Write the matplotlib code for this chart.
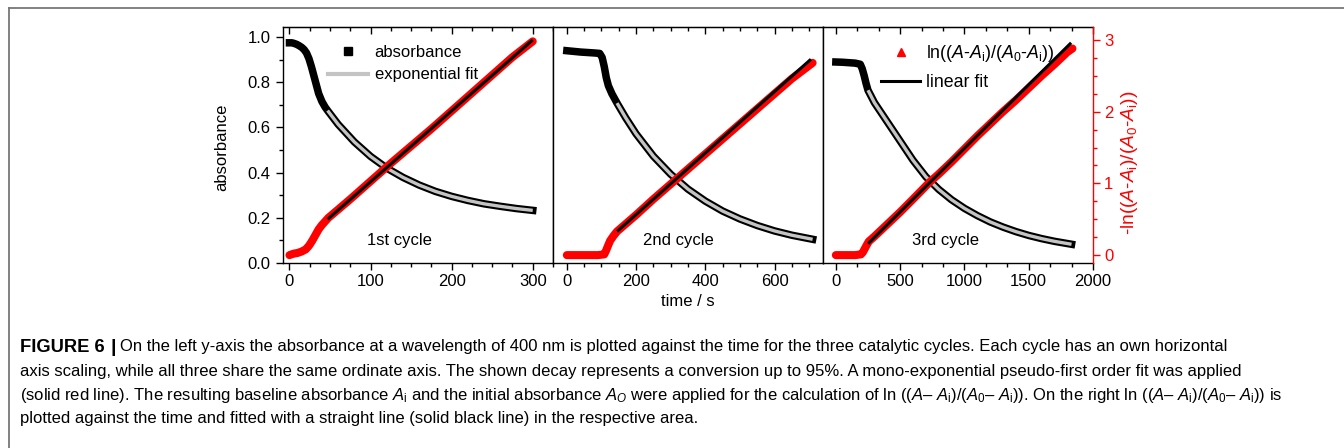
import matplotlib
matplotlib.use("Agg")
import matplotlib.pyplot as plt
from matplotlib.lines import Line2D
from matplotlib.ticker import MultipleLocator, AutoMinorLocator, FormatStrFormatter

plt.rcParams["font.family"] = ["Liberation Sans", "DejaVu Sans"]
plt.rcParams["mathtext.fontset"] = "custom"
plt.rcParams["mathtext.rm"] = "Liberation Sans"
plt.rcParams["mathtext.it"] = "Liberation Sans:italic"
plt.rcParams["font.size"] = 12

# ---------------- DATA ----------------
# 1st cycle
c1_t = [0, 3, 6, 9, 12, 15, 18, 21, 24, 27, 30, 33, 36, 40, 44, 47,
        60, 80, 100, 120, 140, 160, 180, 200, 220, 240, 260, 280, 300]
c1_abs = [0.975, 0.975, 0.972, 0.968, 0.962, 0.955, 0.945, 0.93, 0.905, 0.87,
          0.83, 0.79, 0.75, 0.715, 0.69, 0.675,
          0.614, 0.536, 0.472, 0.42, 0.379, 0.345, 0.317, 0.295, 0.277,
          0.262, 0.251, 0.241, 0.233]
c1_fit_t = [47, 60, 80, 100, 120, 140, 160, 180, 200, 220, 240, 260, 280, 300]
c1_fit = [0.675, 0.614, 0.536, 0.472, 0.42, 0.379, 0.345, 0.317, 0.295,
          0.277, 0.262, 0.251, 0.241, 0.233]
c1_ln_t = [0, 5, 10, 15, 20, 24, 28, 32, 36, 40, 44, 48,
           75, 100, 125, 150, 175, 200, 225, 250, 275, 300]
c1_ln = [0.0, 0.02, 0.03, 0.05, 0.08, 0.13, 0.2, 0.28, 0.36, 0.42, 0.47, 0.52,
         0.78, 1.03, 1.28, 1.52, 1.76, 2.01, 2.26, 2.51, 2.76, 2.98]
c1_lin_t = [47, 300]
c1_lin = [0.5, 3.0]

# 2nd cycle
c2_t = [0, 20, 40, 60, 80, 95, 102, 108, 114, 120, 130, 145,
        170, 200, 250, 300, 350, 400, 450, 500, 550, 600, 650, 710]
c2_abs = [0.94, 0.937, 0.934, 0.932, 0.93, 0.928, 0.91, 0.87, 0.82, 0.785,
          0.75, 0.708, 0.643, 0.572, 0.473, 0.393, 0.327, 0.274, 0.23, 0.195,
          0.166, 0.142, 0.123, 0.105]
c2_fit_t = [145, 170, 200, 250, 300, 350, 400, 450, 500, 550, 600, 650, 710]
c2_fit = [0.708, 0.643, 0.572, 0.473, 0.393, 0.327, 0.274, 0.23, 0.195,
          0.166, 0.142, 0.123, 0.105]
c2_ln_t = [0, 30, 60, 90, 108, 113, 118, 125, 135, 145,
           200, 250, 300, 350, 400, 450, 500, 550, 600, 650, 710]
c2_ln = [0.0, 0.0, 0.0, 0.0, 0.01, 0.06, 0.12, 0.2, 0.27, 0.33,
         0.56, 0.78, 0.99, 1.2, 1.41, 1.62, 1.83, 2.04, 2.25, 2.46, 2.68]
c2_lin_t = [145, 705]
c2_lin = [0.33, 2.73]

# 3rd cycle
c3_t = [0, 50, 100, 150, 190, 205, 220, 235, 250,
        300, 400, 500, 600, 700, 800, 900, 1000, 1100, 1200, 1300, 1400,
        1500, 1600, 1700, 1833]
c3_abs = [0.89, 0.889, 0.887, 0.885, 0.88, 0.86, 0.83, 0.795, 0.765,
          0.71, 0.625, 0.54, 0.455, 0.382, 0.326, 0.28, 0.242, 0.21, 0.182,
          0.159, 0.139, 0.122, 0.108, 0.096, 0.083]
c3_fit_t = [250, 300, 400, 500, 600, 700, 800, 900, 1000, 1100, 1200, 1300,
            1400, 1500, 1600, 1700, 1833]
c3_fit = [0.765, 0.71, 0.625, 0.54, 0.455, 0.382, 0.326, 0.28, 0.242, 0.21,
          0.182, 0.159, 0.139, 0.122, 0.108, 0.096, 0.083]
c3_ln_t = [0, 50, 100, 150, 195, 210, 225, 240, 256,
           300, 400, 500, 600, 731, 800, 900, 1000, 1100, 1200, 1300, 1400,
           1500, 1600, 1700, 1800, 1840]
c3_ln = [0.0, 0.0, 0.0, 0.0, 0.01, 0.04, 0.09, 0.14, 0.19,
         0.26, 0.43, 0.6, 0.78, 1.02, 1.13, 1.3, 1.48, 1.66, 1.83, 2.0, 2.16,
         2.33, 2.5, 2.66, 2.83, 2.88]
c3_lin_t = [250, 1830]
c3_lin = [0.16, 2.96]

cycle_labels = ["1st cycle", "2nd cycle", "3rd cycle"]
xlims = [(-8, 325), (-40, 740), (-100, 2000)]
x_major = [100, 200, 500]
x_minor = [4, 4, 3]

RED = "#ff0000"
GRAY = "#c4c4c4"

# ---------------- LAYOUT (pixels of the 1344x448 picture) ----------------
W, H = 1344, 448
PANEL_X = [283, 553, 823]
PANEL_W = 270
PANEL_TOP, PANEL_BOT = 27, 263
PANEL_H = PANEL_BOT - PANEL_TOP

fig = plt.figure(figsize=(W / 100, H / 100), dpi=100)

# thin frame around the figure
fig.add_artist(Line2D([9 / W, 1], [1 - 8.5 / H, 1 - 8.5 / H], color="#777777", lw=1.3))
fig.add_artist(Line2D([9 / W, 9 / W], [0, 1 - 8.5 / H], color="#777777", lw=1.3))

data = [
    (c1_t, c1_abs, c1_fit_t, c1_fit, c1_ln_t, c1_ln, c1_lin_t, c1_lin),
    (c2_t, c2_abs, c2_fit_t, c2_fit, c2_ln_t, c2_ln, c2_lin_t, c2_lin),
    (c3_t, c3_abs, c3_fit_t, c3_fit, c3_ln_t, c3_ln, c3_lin_t, c3_lin),
]

axes = []
for i, (t, a, ft, fa, lt, lv, lint, linv) in enumerate(data):
    rect = [PANEL_X[i] / W, 1 - PANEL_BOT / H, PANEL_W / W, PANEL_H / H]
    ax = fig.add_axes(rect)
    axr = ax.twinx()

    # absorbance data + exponential fit
    ax.plot(t, a, color="black", lw=5.4, solid_capstyle="projecting", solid_joinstyle="round")
    ax.plot(ft, fa, color=GRAY, lw=2.4, solid_capstyle="butt")

    # ln data + linear fit (right scale)
    axr.plot(lt, lv, color=RED, lw=5.8, solid_capstyle="round", solid_joinstyle="round")
    axr.plot(lint, linv, color="black", lw=2.2, solid_capstyle="butt")

    ax.set_xlim(*xlims[i])
    ax.set_ylim(0, 1.045)
    axr.set_ylim(-0.11, 3.18)

    ax.xaxis.set_major_locator(MultipleLocator(x_major[i]))
    ax.xaxis.set_minor_locator(AutoMinorLocator(x_minor[i]))
    ax.tick_params(axis="x", which="both", direction="out", top=False, pad=3)
    ax.tick_params(axis="x", which="major", length=5, width=1)
    ax.tick_params(axis="x", which="minor", length=3, width=1)

    top = ax.secondary_xaxis("top")
    top.xaxis.set_major_locator(MultipleLocator(x_major[i]))
    top.xaxis.set_minor_locator(AutoMinorLocator(x_minor[i]))
    top.tick_params(which="both", direction="in", labeltop=False, width=1)
    top.tick_params(which="major", length=5)
    top.tick_params(which="minor", length=3)

    ax.yaxis.set_major_locator(MultipleLocator(0.2))
    ax.yaxis.set_minor_locator(MultipleLocator(0.1))
    ax.yaxis.set_major_formatter(FormatStrFormatter("%.1f"))
    if i == 0:
        ax.tick_params(axis="y", which="both", direction="out", pad=4, width=1)
        ax.tick_params(axis="y", which="major", length=5)
        ax.tick_params(axis="y", which="minor", length=3)
    else:
        ax.tick_params(axis="y", which="both", left=False, labelleft=False)

    for s in axr.spines.values():
        s.set_visible(False)
    if i == 2:
        ax.spines["right"].set_visible(False)
        axr.spines["right"].set_visible(True)
        axr.spines["right"].set_color(RED)
        axr.yaxis.set_major_locator(MultipleLocator(1))
        axr.yaxis.set_minor_locator(AutoMinorLocator(4))
        axr.tick_params(axis="y", which="both", colors=RED, direction="out", pad=3, width=1)
        axr.tick_params(axis="y", which="major", length=5)
        axr.tick_params(axis="y", which="minor", length=3)
    else:
        axr.tick_params(axis="y", which="both", right=False, labelright=False)

    for s in ax.spines.values():
        s.set_linewidth(1.0)
    axr.spines["right"].set_linewidth(1.0)

    label_x = [0.433, 0.463, 0.452][i]
    ax.text(label_x, 0.097, cycle_labels[i], transform=ax.transAxes,
            ha="center", va="center", fontsize=12)
    axes.append((ax, axr))

# legends
ax1 = axes[0][0]
h1 = [Line2D([], [], color="black", marker="s", ls="none", markersize=5.5),
      Line2D([], [], color=GRAY, lw=3)]
ax1.legend(h1, ["absorbance", "exponential fit"], loc="upper left",
           bbox_to_anchor=((328 - 283) / PANEL_W, (PANEL_BOT - 45) / PANEL_H),
           frameon=False, borderpad=0, borderaxespad=0, handlelength=2.4,
           handletextpad=0.4, labelspacing=0.45, fontsize=12)

ax3r = axes[2][1]
h3 = [Line2D([], [], color=RED, marker="^", ls="none", markersize=6),
      Line2D([], [], color="black", lw=2.2)]
ax3r.legend(h3, [r"ln(($A$-$A_\mathrm{i}$)/($A_0$-$A_\mathrm{i}$))", "linear fit"],
            loc="upper left",
            bbox_to_anchor=((881 - 823) / PANEL_W, (PANEL_BOT - 43) / PANEL_H),
            frameon=False, borderpad=0, borderaxespad=0, handlelength=2.2,
            handletextpad=0.35, labelspacing=0.55, fontsize=12.8)

# axis titles
fig.text(222 / W, 1 - 147 / H, "absorbance", rotation=90, ha="center", va="center", fontsize=12)
fig.text(1130 / W, 1 - 163 / H, r"-ln(($A$-$A_\mathrm{i}$)/($A_0$-$A_\mathrm{i}$))",
         rotation=90, ha="center", va="center", fontsize=13.8, color=RED)
fig.text(688 / W, 1 - 301 / H, "time / s", ha="center", va="center", fontsize=12)

# caption
cap_size = 12
cap_lines = [
    "On the left y-axis the absorbance at a wavelength of 400 nm is plotted against the time "
    "for the three catalytic cycles. Each cycle has an own horizontal",
    "axis scaling, while all three share the same ordinate axis. The shown decay represents a "
    "conversion up to 95%. A mono-exponential pseudo-first order fit was applied",
    r"(solid red line). The resulting baseline absorbance $A_\mathrm{i}$ and the initial absorbance "
    r"$A_O$ were applied for the calculation of ln (($A$– $A_\mathrm{i}$)/($A_0$– $A_\mathrm{i}$)). "
    r"On the right ln (($A$– $A_\mathrm{i}$)/($A_0$– $A_\mathrm{i}$)) is",
    "plotted against the time and fitted with a straight line (solid black line) in the respective area.",
]
cap_y = [347, 371, 395, 418]
fig.text(20 / W, 1 - cap_y[0] / H, "FIGURE 6", fontsize=13.2,
         fontweight="bold", ha="left", va="center")
fig.text(113 / W, 1 - cap_y[0] / H, "|", fontsize=14,
         fontweight="bold", ha="center", va="center")
for k, line in enumerate(cap_lines):
    x0 = 120 if k == 0 else 20
    fig.text(x0 / W, 1 - cap_y[k] / H, line, fontsize=cap_size,
             ha="left", va="center")

fig.savefig("out.png", dpi=100)
